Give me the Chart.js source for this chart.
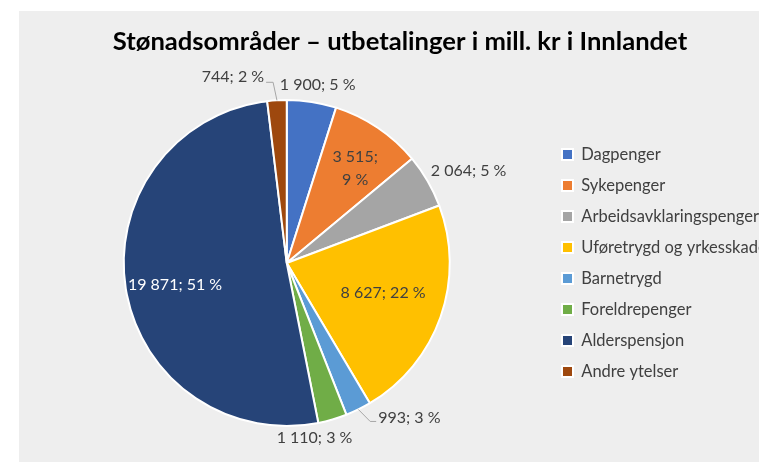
<!DOCTYPE html>
<html>
<head>
<meta charset="utf-8">
<script src="https://cdn.jsdelivr.net/npm/chart.js@4.4.0/dist/chart.umd.min.js"></script>
<style>
  html, body { margin: 0; padding: 0; background: #ffffff; overflow: hidden; }
  body { width: 759px; height: 462px; position: relative; }
  #ramme { position: absolute; left: 19px; top: 11px; width: 762px; height: 451px; background: #eeeeee; }
  #grafStonad { position: absolute; left: 0; top: 0; }
</style>
</head>
<body>
<div id="ramme"><canvas id="grafStonad"></canvas></div>
<script>
var tittel = "Stønadsområder – utbetalinger i mill. kr i Innlandet";
var kategorier = ["Dagpenger", "Sykepenger", "Arbeidsavklaringspenger", "Uføretrygd og yrkesskade",
  "Barnetrygd", "Foreldrepenger", "Alderspensjon", "Andre ytelser"];
var utbetalinger = [1900, 3515, 2064, 8627, 993, 1110, 19871, 744];
var farger = ["#4472c4", "#ed7d31", "#a5a5a5", "#ffc000", "#5b9bd5", "#70ad47", "#264478", "#9e480e"];

// plassering av dataetiketter: k = andel av radius langs midtvinkel, dx/dy = forskyvning
var etikettPlass = [
  { k: 1.0, dx: 6, dy: -17 },
  { k: 0.73, dx: 2, dy: 4, brytes: true },
  { k: 1.0, dx: 41, dy: -10 },
  { k: 0.62, dx: 1, dy: -4 },
  { k: 1.0, dx: 51, dy: 8, linje: "venstre" },
  { k: 1.0, dx: -18, dy: 18 },
  { k: 0.70, dx: 1, dy: 4, hvit: true },
  { k: 1.0, dx: -44, dy: -23, linje: "hoyre" }
];

function tusen(n) {
  return String(n).replace(/\B(?=(\d{3})+(?!\d))/g, " ");
}

const etiketter = {
  id: "etiketter",
  afterDatasetsDraw(chart) {
    const ctx = chart.ctx;
    const meta = chart.getDatasetMeta(0);
    const sum = utbetalinger.reduce((a, b) => a + b, 0);
    ctx.save();
    ctx.font = "16px Lato";
    ctx.textAlign = "center";
    ctx.textBaseline = "middle";
    meta.data.forEach((arc, i) => {
      const p = arc.getProps(["x", "y", "startAngle", "endAngle", "outerRadius"], true);
      const mid = (p.startAngle + p.endAngle) / 2;
      const pl = etikettPlass[i];
      const ex = p.x + Math.cos(mid) * p.outerRadius;
      const ey = p.y + Math.sin(mid) * p.outerRadius;
      const lx = p.x + Math.cos(mid) * p.outerRadius * pl.k + pl.dx;
      const ly = p.y + Math.sin(mid) * p.outerRadius * pl.k + pl.dy;
      const del1 = tusen(utbetalinger[i]) + ";";
      const del2 = Math.round(utbetalinger[i] / sum * 100) + " %";
      ctx.fillStyle = pl.hvit ? "#ffffff" : "#404040";
      if (pl.brytes) {
        ctx.fillText(del1, lx, ly - 11);
        ctx.fillText(del2, lx, ly + 12);
      } else {
        const tekst = del1 + " " + del2;
        ctx.fillText(tekst, lx, ly);
        if (pl.linje) {
          const w = ctx.measureText(tekst).width;
          ctx.strokeStyle = "#a6a6a6";
          ctx.lineWidth = 1;
          ctx.beginPath();
          if (pl.linje === "venstre") {
            const kant = lx - w / 2 - 2;
            ctx.moveTo(ex, ey);
            ctx.lineTo(kant - 6, ly + 4);
            ctx.lineTo(kant, ly + 4);
          } else {
            const kant = lx + w / 2 + 2;
            ctx.moveTo(kant, ly + 5);
            ctx.lineTo(kant + 7, ly + 5);
            ctx.lineTo(ex, ey);
          }
          ctx.stroke();
        }
      }
    });
    ctx.restore();
  }
};

// fast bredde på legenden, slik at teksten kan gå ut over kanten som i Excel
const fastLegende = {
  id: "fastLegende",
  beforeLayout(chart) {
    const leg = chart.legend;
    if (leg && !leg._fast) {
      const fit = leg.fit;
      leg.fit = function () { fit.call(this); this.width = 226.5; };
      leg._fast = true;
    }
  }
};

const lerret = document.getElementById("grafStonad");
lerret.width = 755;
lerret.height = 451;
const ctx = lerret.getContext("2d");
new Chart(ctx, {
  type: "pie",
  data: {
    labels: kategorier,
    datasets: [{
      data: utbetalinger,
      backgroundColor: farger,
      borderColor: "#ffffff",
      borderWidth: 2,
      radius: 163
    }]
  },
  options: {
    responsive: false,
    animation: false,
    layout: { padding: { left: 7, right: 0, top: 0, bottom: 7 } },
    plugins: {
      title: {
        display: true,
        text: tittel,
        color: "#000000",
        font: { family: "Lato", size: 25.6, weight: "bold" },
        padding: { top: 15.6, bottom: 13.7 }
      },
      legend: {
        position: "right",
        fullSize: false,
        labels: {
          boxWidth: 11,
          boxHeight: 11,
          padding: 14.5,
          color: "#404040",
          font: { family: "Lato", size: 16.5 }
        }
      },
      tooltip: { enabled: false }
    }
  },
  plugins: [etiketter, fastLegende]
});
</script>
</body>
</html>
